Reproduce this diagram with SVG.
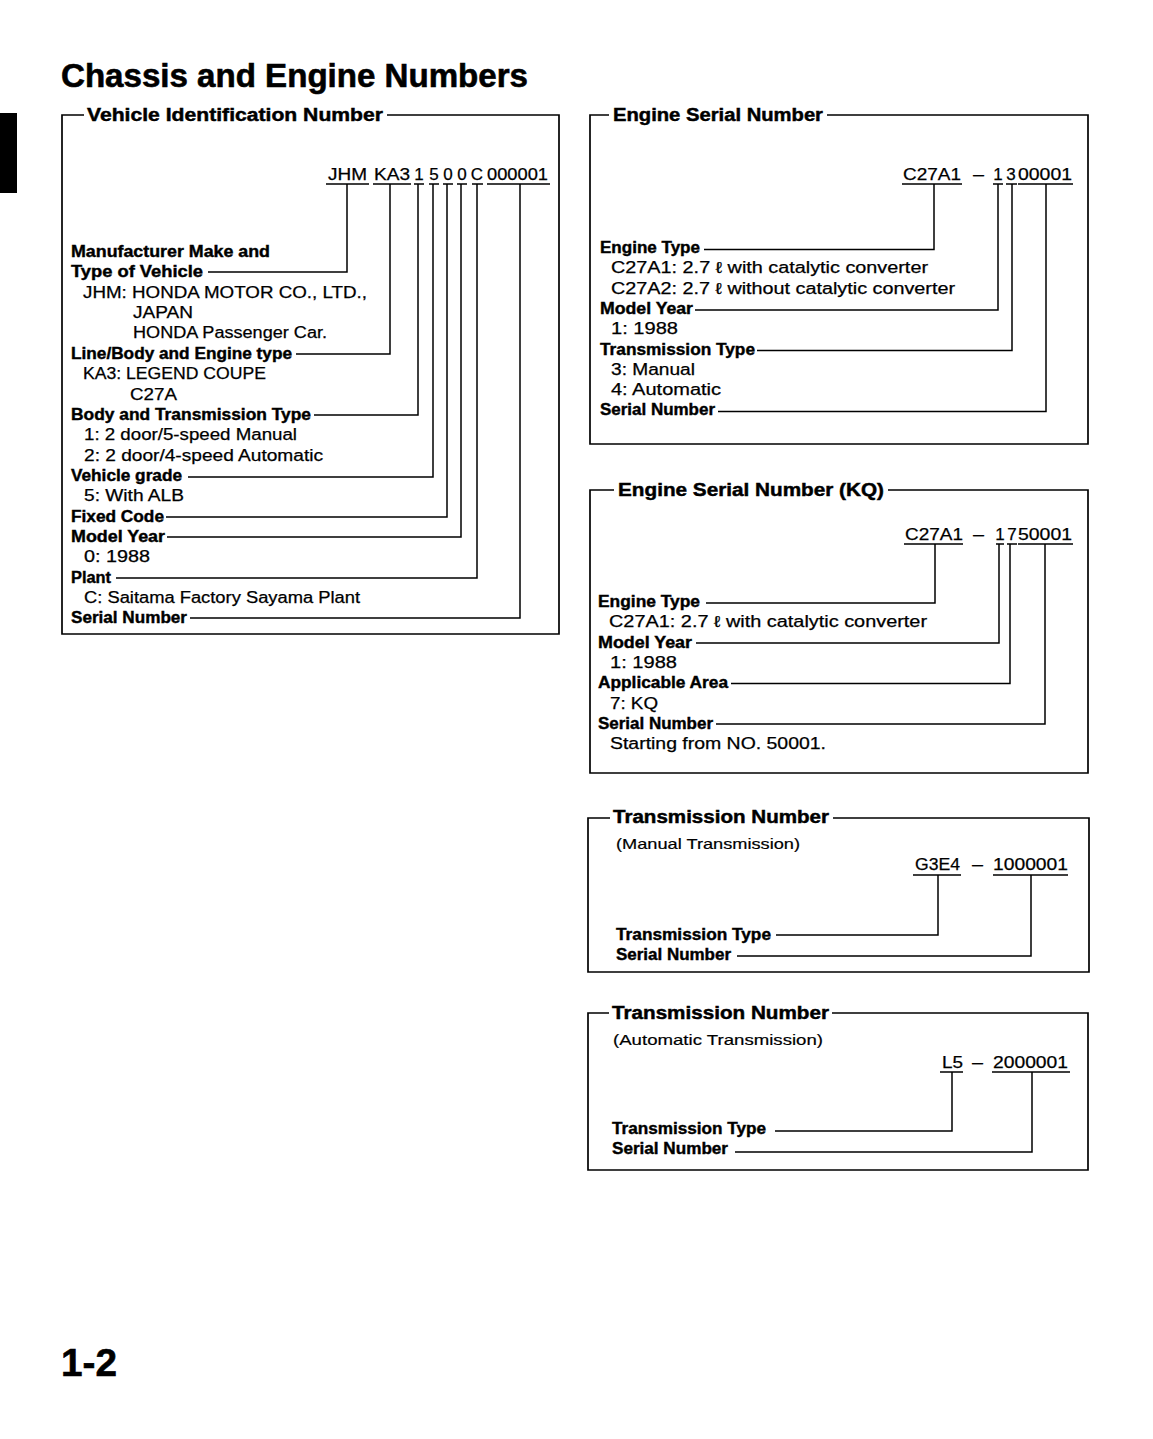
<svg xmlns="http://www.w3.org/2000/svg" width="1153" height="1439" viewBox="0 0 1153 1439">
<style>
text{font-family:"Liberation Sans",Arial,sans-serif;fill:#000}
.h{font-size:33px;font-weight:bold;stroke:#000;stroke-width:0.6}
.pg{font-size:39px;font-weight:bold;stroke:#000;stroke-width:0.6}
.t{font-size:18px;font-weight:bold;stroke:#000;stroke-width:0.45}
.b{font-size:16px;font-weight:bold;stroke:#000;stroke-width:0.4}
.r{font-size:16px;stroke:#000;stroke-width:0.25}
.s{font-size:15px;stroke:#000;stroke-width:0.2}
.c{font-size:17px;stroke:#000;stroke-width:0.25}
.frame{fill:none;stroke:#000;stroke-width:1.7}
.ul{fill:none;stroke:#000;stroke-width:1.5}
#connectors path{fill:none;stroke:#000;stroke-width:1.5}
</style>
<rect width="1153" height="1439" fill="#fff"/>
<g id="page">
<text class="h" x="61" y="87" textLength="467" lengthAdjust="spacingAndGlyphs">Chassis and Engine Numbers</text>
<rect x="0" y="113" width="17" height="80" fill="#000"/>
<text class="pg" x="61" y="1376" textLength="56" lengthAdjust="spacingAndGlyphs">1-2</text>
</g>

<g id="vin">
<path class="frame" d="M84,115 H62 V634 H559 V115 H387"/>
<text class="t" x="87" y="121" textLength="296" lengthAdjust="spacingAndGlyphs">Vehicle Identification Number</text>
<text class="c" x="328" y="180" textLength="39" lengthAdjust="spacingAndGlyphs">JHM</text>
<text class="c" x="374" y="180" textLength="36" lengthAdjust="spacingAndGlyphs">KA3</text>
<text class="c" x="419" y="180" text-anchor="middle">1</text>
<text class="c" x="434" y="180" text-anchor="middle">5</text>
<text class="c" x="448" y="180" text-anchor="middle">0</text>
<text class="c" x="462" y="180" text-anchor="middle">0</text>
<text class="c" x="477" y="180" text-anchor="middle">C</text>
<text class="c" x="487" y="180" textLength="61" lengthAdjust="spacingAndGlyphs">000001</text>
<path class="ul" d="M326,184 H369 M373,184 H411 M414,184 H424 M429,184 H439 M443,184 H453 M457,184 H467 M472,184 H483 M487,184 H550"/>
<text class="b" x="71" y="257" textLength="199" lengthAdjust="spacingAndGlyphs">Manufacturer Make and</text>
<text class="b" x="71" y="277.4" textLength="132" lengthAdjust="spacingAndGlyphs">Type of Vehicle</text>
<text class="r" x="83" y="297.7" textLength="284" lengthAdjust="spacingAndGlyphs">JHM: HONDA MOTOR CO., LTD.,</text>
<text class="r" x="133" y="318" textLength="60" lengthAdjust="spacingAndGlyphs">JAPAN</text>
<text class="r" x="133" y="338.4" textLength="194" lengthAdjust="spacingAndGlyphs">HONDA Passenger Car.</text>
<text class="b" x="71" y="358.8" textLength="221" lengthAdjust="spacingAndGlyphs">Line/Body and Engine type</text>
<text class="r" x="83" y="379.1" textLength="183" lengthAdjust="spacingAndGlyphs">KA3: LEGEND COUPE</text>
<text class="r" x="130" y="399.5" textLength="47" lengthAdjust="spacingAndGlyphs">C27A</text>
<text class="b" x="71" y="419.8" textLength="240" lengthAdjust="spacingAndGlyphs">Body and Transmission Type</text>
<text class="r" x="84" y="440.2" textLength="213" lengthAdjust="spacingAndGlyphs">1: 2 door/5-speed Manual</text>
<text class="r" x="84" y="460.5" textLength="239" lengthAdjust="spacingAndGlyphs">2: 2 door/4-speed Automatic</text>
<text class="b" x="71" y="480.9" textLength="111" lengthAdjust="spacingAndGlyphs">Vehicle grade</text>
<text class="r" x="84" y="501.2" textLength="100" lengthAdjust="spacingAndGlyphs">5: With ALB</text>
<text class="b" x="71" y="521.6" textLength="93" lengthAdjust="spacingAndGlyphs">Fixed Code</text>
<text class="b" x="71" y="541.9" textLength="94" lengthAdjust="spacingAndGlyphs">Model Year</text>
<text class="r" x="84" y="562.3" textLength="66" lengthAdjust="spacingAndGlyphs">0: 1988</text>
<text class="b" x="71" y="582.6" textLength="40" lengthAdjust="spacingAndGlyphs">Plant</text>
<text class="r" x="84" y="603" textLength="276" lengthAdjust="spacingAndGlyphs">C: Saitama Factory Sayama Plant</text>
<text class="b" x="71" y="623.3" textLength="116" lengthAdjust="spacingAndGlyphs">Serial Number</text>
</g>

<g id="engine-serial">
<path class="frame" d="M609,115 H590 V444 H1088 V115 H827"/>
<text class="t" x="613" y="121" textLength="210" lengthAdjust="spacingAndGlyphs">Engine Serial Number</text>
<text class="c" x="903" y="180" textLength="58" lengthAdjust="spacingAndGlyphs">C27A1</text>
<text class="c" x="973" y="180" textLength="11" lengthAdjust="spacingAndGlyphs">—</text>
<text class="c" x="998" y="180" text-anchor="middle">1</text>
<text class="c" x="1011" y="180" text-anchor="middle">3</text>
<text class="c" x="1018" y="180" textLength="54" lengthAdjust="spacingAndGlyphs">00001</text>
<path class="ul" d="M902,184 H962 M993,184 H1003 M1006,184 H1017 M1018,184 H1073"/>
<text class="b" x="600" y="253" textLength="100" lengthAdjust="spacingAndGlyphs">Engine Type</text>
<text class="r" x="611" y="273.3" textLength="317" lengthAdjust="spacingAndGlyphs">C27A1: 2.7 ℓ with catalytic converter</text>
<text class="r" x="611" y="293.6" textLength="344" lengthAdjust="spacingAndGlyphs">C27A2: 2.7 ℓ without catalytic converter</text>
<text class="b" x="600" y="313.9" textLength="93" lengthAdjust="spacingAndGlyphs">Model Year</text>
<text class="r" x="611" y="334.2" textLength="67" lengthAdjust="spacingAndGlyphs">1: 1988</text>
<text class="b" x="600" y="354.5" textLength="155" lengthAdjust="spacingAndGlyphs">Transmission Type</text>
<text class="r" x="611" y="374.8" textLength="84" lengthAdjust="spacingAndGlyphs">3: Manual</text>
<text class="r" x="611" y="395.1" textLength="110" lengthAdjust="spacingAndGlyphs">4: Automatic</text>
<text class="b" x="600" y="415.4" textLength="115" lengthAdjust="spacingAndGlyphs">Serial Number</text>
</g>

<g id="engine-serial-kq">
<path class="frame" d="M614,490 H590 V773 H1088 V490 H888"/>
<text class="t" x="618" y="496" textLength="266" lengthAdjust="spacingAndGlyphs">Engine Serial Number (KQ)</text>
<text class="c" x="905" y="540" textLength="58" lengthAdjust="spacingAndGlyphs">C27A1</text>
<text class="c" x="973" y="540" textLength="11" lengthAdjust="spacingAndGlyphs">—</text>
<text class="c" x="1000" y="540" text-anchor="middle">1</text>
<text class="c" x="1012" y="540" text-anchor="middle">7</text>
<text class="c" x="1018" y="540" textLength="54" lengthAdjust="spacingAndGlyphs">50001</text>
<path class="ul" d="M904,544 H963 M996,544 H1004 M1007,544 H1017 M1018,544 H1073"/>
<text class="b" x="598" y="607" textLength="102" lengthAdjust="spacingAndGlyphs">Engine Type</text>
<text class="r" x="609" y="627.3" textLength="318" lengthAdjust="spacingAndGlyphs">C27A1: 2.7 ℓ with catalytic converter</text>
<text class="b" x="598" y="647.6" textLength="94" lengthAdjust="spacingAndGlyphs">Model Year</text>
<text class="r" x="610" y="667.9" textLength="67" lengthAdjust="spacingAndGlyphs">1: 1988</text>
<text class="b" x="598" y="688.2" textLength="130" lengthAdjust="spacingAndGlyphs">Applicable Area</text>
<text class="r" x="610" y="708.5" textLength="48" lengthAdjust="spacingAndGlyphs">7: KQ</text>
<text class="b" x="598" y="728.8" textLength="115" lengthAdjust="spacingAndGlyphs">Serial Number</text>
<text class="r" x="610" y="749.1" textLength="216" lengthAdjust="spacingAndGlyphs">Starting from NO. 50001.</text>
</g>

<g id="transmission-manual">
<path class="frame" d="M610,818 H588 V972 H1089 V818 H833"/>
<text class="t" x="613" y="823" textLength="216" lengthAdjust="spacingAndGlyphs">Transmission Number</text>
<text class="s" x="616" y="849" textLength="184" lengthAdjust="spacingAndGlyphs">(Manual Transmission)</text>
<text class="c" x="915" y="870" textLength="45" lengthAdjust="spacingAndGlyphs">G3E4</text>
<text class="c" x="972" y="870" textLength="11" lengthAdjust="spacingAndGlyphs">—</text>
<text class="c" x="993" y="870" textLength="75" lengthAdjust="spacingAndGlyphs">1000001</text>
<path class="ul" d="M913,875 H961 M993,875 H1068"/>
<text class="b" x="616" y="940" textLength="155" lengthAdjust="spacingAndGlyphs">Transmission Type</text>
<text class="b" x="616" y="960" textLength="115" lengthAdjust="spacingAndGlyphs">Serial Number</text>
</g>

<g id="transmission-automatic">
<path class="frame" d="M609,1013 H588 V1170 H1088 V1013 H832"/>
<text class="t" x="612" y="1019" textLength="217" lengthAdjust="spacingAndGlyphs">Transmission Number</text>
<text class="s" x="613" y="1045" textLength="210" lengthAdjust="spacingAndGlyphs">(Automatic Transmission)</text>
<text class="c" x="942" y="1068" textLength="21" lengthAdjust="spacingAndGlyphs">L5</text>
<text class="c" x="972" y="1068" textLength="11" lengthAdjust="spacingAndGlyphs">—</text>
<text class="c" x="993" y="1068" textLength="75" lengthAdjust="spacingAndGlyphs">2000001</text>
<path class="ul" d="M940,1072 H963 M992,1072 H1070"/>
<text class="b" x="612" y="1134" textLength="154" lengthAdjust="spacingAndGlyphs">Transmission Type</text>
<text class="b" x="612" y="1154" textLength="116" lengthAdjust="spacingAndGlyphs">Serial Number</text>
</g>

<g id="connectors">
<path d="M347,184 V272 H208"/>
<path d="M390,184 V354 H296"/>
<path d="M418,184 V415 H314"/>
<path d="M433,184 V477 H188"/>
<path d="M447,184 V517 H166"/>
<path d="M461,184 V537 H167"/>
<path d="M477,184 V578 H116"/>
<path d="M520,184 V618 H190"/>
<path d="M934,184 V249.5 H704"/>
<path d="M998,184 V310 H695"/>
<path d="M1012,184 V350.5 H757"/>
<path d="M1046,184 V411.5 H718"/>
<path d="M935,544 V603 H706"/>
<path d="M999,544 V643 H696"/>
<path d="M1010,544 V683.5 H731"/>
<path d="M1045,544 V724 H716"/>
<path d="M938,875 V935 H776"/>
<path d="M1031,875 V956 H737"/>
<path d="M952,1072 V1131 H775"/>
<path d="M1032,1072 V1152 H735"/>
</g>
</svg>
